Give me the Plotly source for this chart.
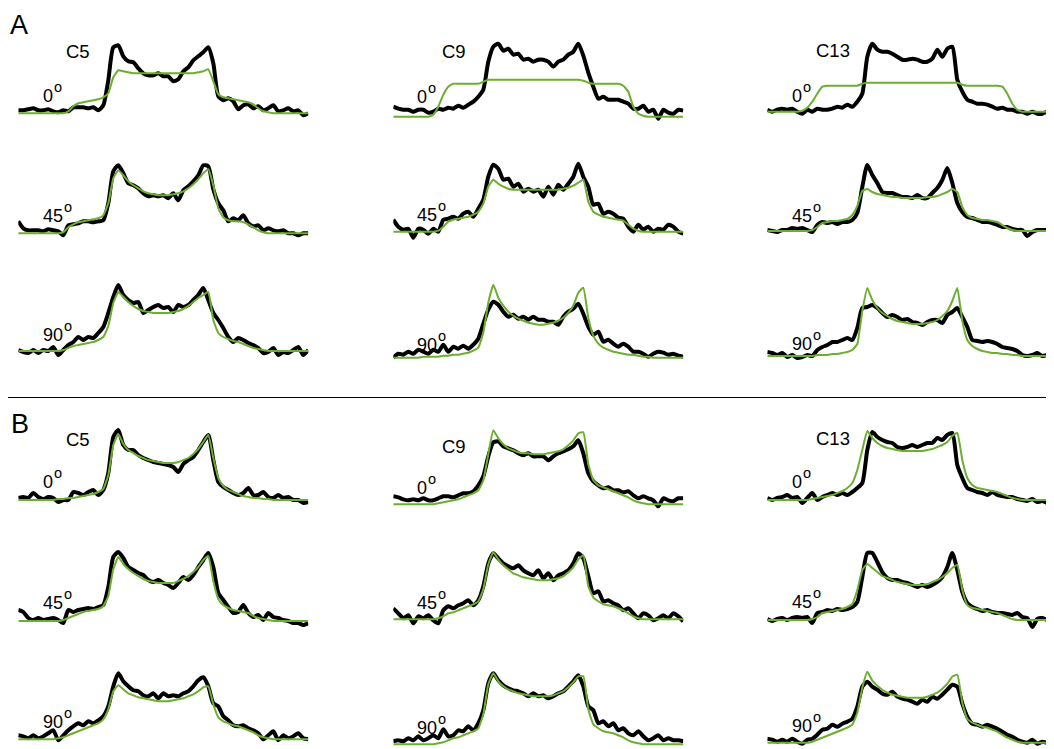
import plotly.graph_objects as go

# page is 1054x749; the browser body keeps an 8px margin, so the figure is 8px smaller
PAGE_W, PAGE_H = 1054, 749
OFF = 8
W, H = PAGE_W - OFF, PAGE_H - OFF
FONT = "Liberation Sans, Arial, Helvetica, sans-serif"
BLACK = "#000000"
GREEN = "#6cae30"

# common frequency grid (relative units across each spectrum)
freq = list(range(0, 291, 5))

compounds = ["C5", "C9", "C13"]
angles = ["0", "45", "90"]

# ---------------- Panel A : experimental (black) and simulated (green) ----------------
a_c5_0_exp = [3,3,4,5,3,3,4,2,1,3, 2,6,6,6,5,6,3,8,33,66, 68,57,52,51,45,40,38,38,40,37,
              37,32,34,42,46,53,57,61,66,50, 17,13,15,12,4,8,9,5,7,3, 5,8,2,3,5,2,3,-2,0]
a_c5_0_sim = [0,0,0,0,0,0,0,0,0,0, 2,7,10,11,12,13,14,16,20,36, 43,42,41,40,40,40,40,40,40,40,
              40,40,40,40,40,40,41,42,44,32, 19,16,15,14,13,12,11,9,5,2, 1,0,0,0,0,0,0,0,0]
a_c5_45_exp = [12,5,3,3,3,2,4,3,2,-2, 8,9,10,12,12,11,12,13,30,62, 68,60,50,48,45,40,37,38,37,38,
               35,40,33,43,47,52,58,68,67,44, 30,23,12,15,13,18,10,7,8,3, 5,3,2,3,0,0,-2,0,0]
a_c5_45_sim = [0,0,0,0,0,0,0,0,0,1, 6,9,11,12,13,14,15,18,30,55, 63,58,52,48,45,42,40,39,38,38,
               38,39,40,42,45,49,54,60,64,48, 25,16,13,12,12,11,9,6,3,1, 0,0,0,0,0,0,0,0,0]
a_c5_90_exp = [1,-1,-2,1,-2,1,0,4,-4,1, 6,9,14,11,14,13,18,24,38,54, 66,56,51,48,49,38,41,44,46,43,
               44,39,46,44,46,51,56,63,51,38, 31,23,14,9,13,11,8,6,3,-2, -1,3,-4,-1,-2,1,4,-4,1]
a_c5_90_sim = [0,0,0,0,0,0,0,0,0,1, 3,5,6,7,8,9,11,14,25,48, 59,54,49,45,42,40,39,38,38,38,
               38,39,40,42,45,49,53,56,59,31, 18,14,12,10,9,7,5,3,2,1, 0,0,0,0,0,0,0,0,0]

a_c9_0_exp = [10,8,7,7,5,7,7,4,5,8, 7,9,8,11,9,12,15,20,27,55, 70,73,66,68,62,63,57,58,55,57,
              57,55,50,55,57,62,65,73,61,44, 30,18,20,17,17,17,15,13,8,8, 11,5,7,-2,7,4,3,7,6]
a_c9_0_sim = [0,0,0,0,0,0,0,0,2,10, 22,30,33,33,33,33,33,33,35,37, 37,37,37,37,37,37,37,37,37,37,
              37,37,37,37,37,37,37,37,36,34, 33,33,33,33,33,33,31,25,10,3, 1,0,0,0,0,0,0,0,0]
a_c9_45_exp = [12,5,2,3,-6,3,2,-2,3,0, 12,13,15,13,18,20,15,23,32,55, 67,63,52,53,45,48,40,43,40,42,
               35,45,37,47,42,48,55,68,55,45, 27,28,18,20,18,14,13,5,0,7, 2,5,0,3,2,7,5,0,-2]
a_c9_45_sim = [0,0,0,0,0,0,0,0,0,1, 5,10,12,13,14,15,17,20,28,45, 52,48,45,43,42,42,42,42,42,42,
               42,42,42,42,43,44,46,49,52,30, 20,17,15,14,13,12,11,7,3,1, 0,0,0,0,0,0,0,0,0]
a_c9_90_exp = [0,4,3,6,4,8,6,4,8,6, 13,6,11,9,12,9,13,19,34,48, 56,53,46,41,43,39,41,38,41,38,
               38,36,36,33,41,46,49,54,44,31, 23,26,16,18,14,11,14,11,6,6, 4,1,4,6,5,3,4,2,1]
a_c9_90_sim = [0,0,0,0,0,0,1,1,1,1, 2,2,3,3,4,5,7,10,25,55, 73,60,52,46,42,39,37,35,34,33,
               33,34,35,37,40,45,52,65,70,40, 22,14,10,8,6,5,4,3,3,2, 1,1,0,0,0,0,0,0,0]

a_c13_0_exp = [2,0,2,3,2,3,0,-2,2,0, 3,2,2,3,5,4,7,5,10,18, 55,68,62,60,60,58,55,52,52,53,
               52,50,50,53,62,55,63,65,32,20, 12,10,8,8,7,5,3,4,2,2, 0,0,-2,0,-2,-2,0,-3,-3]
a_c13_0_sim = [0,0,0,0,0,0,0,1,4,10, 18,25,26,26,26,26,26,26,26,28, 29,29,29,29,29,29,29,29,29,29,
               29,29,29,29,29,29,29,29,29,27, 26,26,26,26,26,26,26,25,18,8, 2,0,0,0,0,0,0,0,0]
a_c13_45_exp = [1,0,-1,1,1,3,2,3,1,-1, 6,9,8,9,7,9,9,11,18,44, 66,56,48,39,38,38,36,34,34,33,
                36,33,33,38,43,51,63,48,28,19, 14,13,11,9,9,8,6,4,4,2, 1,1,-5,-1,1,1,1,3,3]
a_c13_45_sim = [0,0,0,0,0,0,0,0,0,1, 4,8,9,10,10,11,12,16,25,40, 42,39,37,36,35,34,34,33,33,33,
                33,33,34,34,35,37,39,42,39,24, 16,13,12,11,11,10,9,6,3,1, 0,0,0,0,0,0,0,0,0]
a_c13_90_exp = [4,3,1,3,-1,1,-2,-1,1,0, 6,9,11,14,14,16,18,16,28,48, 49,51,48,43,39,41,39,36,37,34,
                33,31,34,36,36,33,41,44,48,39, 29,16,15,14,15,14,12,9,8,7, 5,1,0,1,3,0,1,0,0]
a_c13_90_sim = [0,0,0,0,0,0,0,0,0,0, 1,1,1,2,2,3,4,6,12,45, 68,56,48,43,40,37,35,34,33,32,
                32,32,33,34,36,40,45,55,68,35, 16,10,7,5,4,3,3,2,2,1, 1,0,0,0,0,0,0,0,0]

# ---------------- Panel B ----------------
b_c5_0_exp = [2,3,2,7,3,1,3,2,-2,0, 0,8,7,5,8,10,5,10,27,63, 70,55,50,50,45,42,40,38,37,36,
              35,33,28,36,40,43,50,58,65,40, 18,13,10,7,5,7,12,5,5,8, 3,2,5,2,3,0,0,-3,-2]
b_c5_0_sim = [0,0,0,0,0,0,0,0,1,1, 2,2,3,4,5,6,8,11,25,55, 66,56,50,47,44,42,40,39,38,37,
              37,37,38,40,42,46,51,58,65,42, 22,14,10,8,6,4,3,2,2,1, 1,0,0,0,0,0,0,0,0]
b_c5_45_exp = [11,9,3,1,3,1,2,3,1,-2, 11,9,11,12,13,12,14,16,34,64, 69,63,54,51,48,46,41,39,41,38,
               36,33,38,44,41,46,54,61,68,54, 28,21,14,8,9,16,8,4,6,1, 8,4,3,1,0,-2,-2,-4,-2]
b_c5_45_sim = [0,0,0,0,0,0,0,0,0,1, 3,5,7,9,10,11,12,15,25,52, 64,57,52,48,45,42,40,39,38,38,
               38,38,40,42,45,49,54,61,65,40, 22,16,13,11,10,9,8,5,3,2, 1,0,0,0,0,0,0,0,0]
b_c5_90_exp = [4,3,1,4,1,3,6,9,-1,4, 9,13,16,14,18,16,19,23,33,53, 66,58,53,49,48,44,43,46,41,46,
               43,44,43,46,48,53,59,62,53,36, 33,23,19,14,13,14,11,9,6,0, 4,8,-1,4,1,3,6,1,0]
b_c5_90_sim = [0,0,0,0,0,0,0,0,1,2, 4,6,8,10,12,14,16,20,30,48, 54,50,46,44,42,41,40,39,38,38,
               38,39,40,41,43,45,48,52,53,35, 22,18,16,14,13,11,9,7,4,2, 1,0,0,0,0,0,0,0,0]

b_c9_0_exp = [8,7,5,4,5,4,6,4,4,6, 8,8,7,9,11,11,13,19,28,48, 62,63,58,56,54,51,49,51,48,48,
              48,44,48,51,53,55,58,64,51,31, 23,19,16,17,14,14,12,13,9,6, 8,6,4,-2,6,4,3,6,6]
b_c9_0_sim = [0,0,0,0,0,0,0,0,0,1, 2,3,4,5,7,9,11,14,24,50, 74,66,60,56,54,52,51,51,50,50,
              50,51,52,53,55,59,64,71,72,40, 24,19,17,15,13,11,9,7,4,2, 1,0,0,0,0,0,0,0,0]
b_c9_45_exp = [11,6,1,4,-4,3,1,4,-1,-4, 9,13,11,14,16,19,14,19,33,56, 66,61,56,53,51,54,49,46,44,49,
               41,46,39,44,46,49,56,66,61,43, 26,28,18,19,16,14,9,11,6,1, 6,4,-1,1,4,1,6,3,-2]
b_c9_45_sim = [0,0,0,0,0,0,0,0,0,1, 3,6,7,9,11,13,15,18,30,55, 67,60,54,50,46,44,42,41,40,39,
               39,39,40,41,43,47,52,60,64,33, 22,18,15,14,13,11,9,6,3,1, 0,0,0,0,0,0,0,0,0]
b_c9_90_exp = [3,4,3,6,4,8,4,6,9,6, 15,8,9,14,13,18,14,21,34,61, 71,64,59,56,54,53,51,48,51,48,
               49,46,48,51,53,58,63,69,58,38, 34,21,23,18,21,14,16,11,9,13, 8,4,6,9,4,6,4,4,3]
b_c9_90_sim = [0,0,0,0,0,0,0,0,0,1, 2,4,6,7,9,11,13,16,30,60, 71,63,58,55,53,51,50,49,48,48,
               48,48,49,51,53,57,62,68,68,35, 20,16,13,12,11,9,7,4,2,1, 0,0,0,0,0,0,0,0,0]

b_c13_0_exp = [2,0,2,3,5,2,3,-3,2,7, 0,3,5,7,5,7,5,8,12,17, 50,68,63,60,58,57,53,52,53,55,
               53,55,57,57,62,60,65,67,35,22, 12,10,8,7,5,8,5,4,3,3, 1,0,-1,1,-2,-1,-3,-4,-5]
b_c13_0_sim = [0,0,0,0,0,0,0,0,0,1, 2,3,4,5,7,9,12,17,30,50, 69,62,57,54,52,51,50,49,49,49,
               49,49,50,51,53,55,58,64,67,40, 22,15,12,11,10,9,8,6,4,2, 1,0,0,0,0,0,0,0,0]
b_c13_45_exp = [1,-1,1,2,0,2,3,2,3,-3, 7,8,10,9,11,10,11,13,18,43, 67,67,58,48,42,40,40,38,37,35,
                33,35,33,35,38,43,53,67,50,28, 17,13,11,9,10,8,7,7,6,5, 7,3,2,-7,1,2,0,1,0]
b_c13_45_sim = [0,0,0,0,0,0,0,0,0,1, 3,7,8,9,10,11,13,16,30,50, 56,52,48,44,42,40,38,37,36,35,
                35,35,36,38,40,43,47,52,55,30, 15,12,11,10,9,8,7,5,3,1, 0,0,0,0,0,0,0,0,0]
b_c13_90_exp = [4,3,1,3,1,4,1,-1,3,4, 8,13,14,18,16,19,21,24,36,56, 61,56,53,49,48,51,46,44,43,41,
                39,43,41,46,44,48,53,58,56,39, 26,19,18,16,18,16,14,11,8,6, 3,1,0,3,-1,1,0,1,1]
b_c13_90_sim = [0,0,0,0,0,0,0,0,0,1, 3,5,7,9,11,13,15,18,30,55, 71,62,57,53,50,48,47,46,45,45,
                45,45,46,48,50,54,59,66,68,40, 24,20,18,16,15,13,11,8,5,3, 1,0,0,0,0,0,0,0,0]

# ---------------- layout geometry (page pixels) ----------------
col_left = [18.3, 393.3, 767.3]
span = 290
# (section, column index, angle index, experimental, simulated, baseline pixel)
panels = [
    ("A", 0, 0, a_c5_0_exp, a_c5_0_sim, 113.3),
    ("A", 0, 1, a_c5_45_exp, a_c5_45_sim, 233.3),
    ("A", 0, 2, a_c5_90_exp, a_c5_90_sim, 351.0),
    ("A", 1, 0, a_c9_0_exp, a_c9_0_sim, 116.7),
    ("A", 1, 1, a_c9_45_exp, a_c9_45_sim, 231.7),
    ("A", 1, 2, a_c9_90_exp, a_c9_90_sim, 357.7),
    ("A", 2, 0, a_c13_0_exp, a_c13_0_sim, 111.7),
    ("A", 2, 1, a_c13_45_exp, a_c13_45_sim, 231.0),
    ("A", 2, 2, a_c13_90_exp, a_c13_90_sim, 356.0),
    ("B", 0, 0, b_c5_0_exp, b_c5_0_sim, 500.0),
    ("B", 0, 1, b_c5_45_exp, b_c5_45_sim, 621.0),
    ("B", 0, 2, b_c5_90_exp, b_c5_90_sim, 739.3),
    ("B", 1, 0, b_c9_0_exp, b_c9_0_sim, 504.3),
    ("B", 1, 1, b_c9_45_exp, b_c9_45_sim, 619.3),
    ("B", 1, 2, b_c9_90_exp, b_c9_90_sim, 744.3),
    ("B", 2, 0, b_c13_0_exp, b_c13_0_sim, 500.0),
    ("B", 2, 1, b_c13_45_exp, b_c13_45_sim, 620.0),
    ("B", 2, 2, b_c13_90_exp, b_c13_90_sim, 742.7),
]

for p in panels:
    if len(p[3]) != len(freq) or len(p[4]) != len(freq):
        raise ValueError(f"length mismatch in panel {p[0]} {p[1]} {p[2]}: {len(p[3])}, {len(p[4])}")


def fx(px):
    return (px - OFF) / W


def fy(py):
    return 1 - (py - OFF) / H


fig = go.Figure()
layout_axes = {}
for i, (sec, ci, ai, exp, sim, base) in enumerate(panels, start=1):
    xa = "x" if i == 1 else f"x{i}"
    ya = "y" if i == 1 else f"y{i}"
    left = col_left[ci] - OFF
    right = min(left + span, W)
    b = base - OFF
    top_px = max(b - 85, 0)
    bot_px = min(b + 15, H)
    layout_axes["xaxis" if i == 1 else f"xaxis{i}"] = dict(
        domain=[left / W, right / W], range=[0, right - left], visible=False,
        anchor=ya, fixedrange=True)
    layout_axes["yaxis" if i == 1 else f"yaxis{i}"] = dict(
        domain=[1 - bot_px / H, 1 - top_px / H], range=[-(bot_px - b), b - top_px],
        visible=False, anchor=xa, fixedrange=True)
    fig.add_trace(go.Scatter(x=freq, y=exp, mode="lines", xaxis=xa, yaxis=ya,
                             line=dict(color=BLACK, width=4, shape="spline", smoothing=0.6),
                             showlegend=False, hoverinfo="skip"))
    fig.add_trace(go.Scatter(x=freq, y=sim, mode="lines", xaxis=xa, yaxis=ya,
                             line=dict(color=GREEN, width=2, shape="spline", smoothing=0.4),
                             showlegend=False, hoverinfo="skip"))


def ann(text, x, y, size, xanchor="left"):
    return dict(text=text, x=fx(x), y=fy(y), xref="paper", yref="paper",
                xanchor=xanchor, yanchor="middle", showarrow=False, borderpad=0,
                font=dict(size=size, color="black", family=FONT))


annotations = [ann("A", 9, 25, 27), ann("B", 10, 424, 27)]

# compound labels (center x, center y)
comp_pos = {
    "A": [(77.5, 51.5), (453.5, 51.5), (832.5, 51.0)],
    "B": [(78.0, 439.0), (453.5, 446.5), (832.5, 438.5)],
}
for sec, plist in comp_pos.items():
    for ci, (cx, cy) in enumerate(plist):
        annotations.append(ann(compounds[ci], cx, cy, 18.5, xanchor="center"))

# angle labels: (left x of digits, center y of digits)
ang_pos = {
    ("A", 0): [(42, 96.5), (42, 216), (42, 334.5)],
    ("A", 1): [(416, 97.5), (416, 215), (416, 345)],
    ("A", 2): [(791, 96.5), (791, 215.5), (791, 344)],
    ("B", 0): [(42, 481.5), (42, 603), (42, 721.5)],
    ("B", 1): [(416, 488.5), (416, 602.5), (416, 727.5)],
    ("B", 2): [(791, 481.5), (791, 601.5), (791, 725.5)],
}
digit_w = {"0": 10, "45": 20, "90": 20}
for (sec, ci), plist in ang_pos.items():
    for ai, (lx, cy) in enumerate(plist):
        label = angles[ai]
        annotations.append(ann(label, lx, cy, 18))
        annotations.append(ann("o", lx + digit_w[label] + 0.5, cy - 9, 14.5))

fig.update_layout(
    width=W, height=H, margin=dict(l=0, r=0, t=0, b=0),
    paper_bgcolor="white", plot_bgcolor="white",
    annotations=annotations,
    shapes=[dict(type="line", xref="paper", yref="paper",
                 x0=0.0, x1=1.0, y0=fy(397.5), y1=fy(397.5),
                 line=dict(color="black", width=1.2))],
    **layout_axes,
)

fig.write_html("out.html")
